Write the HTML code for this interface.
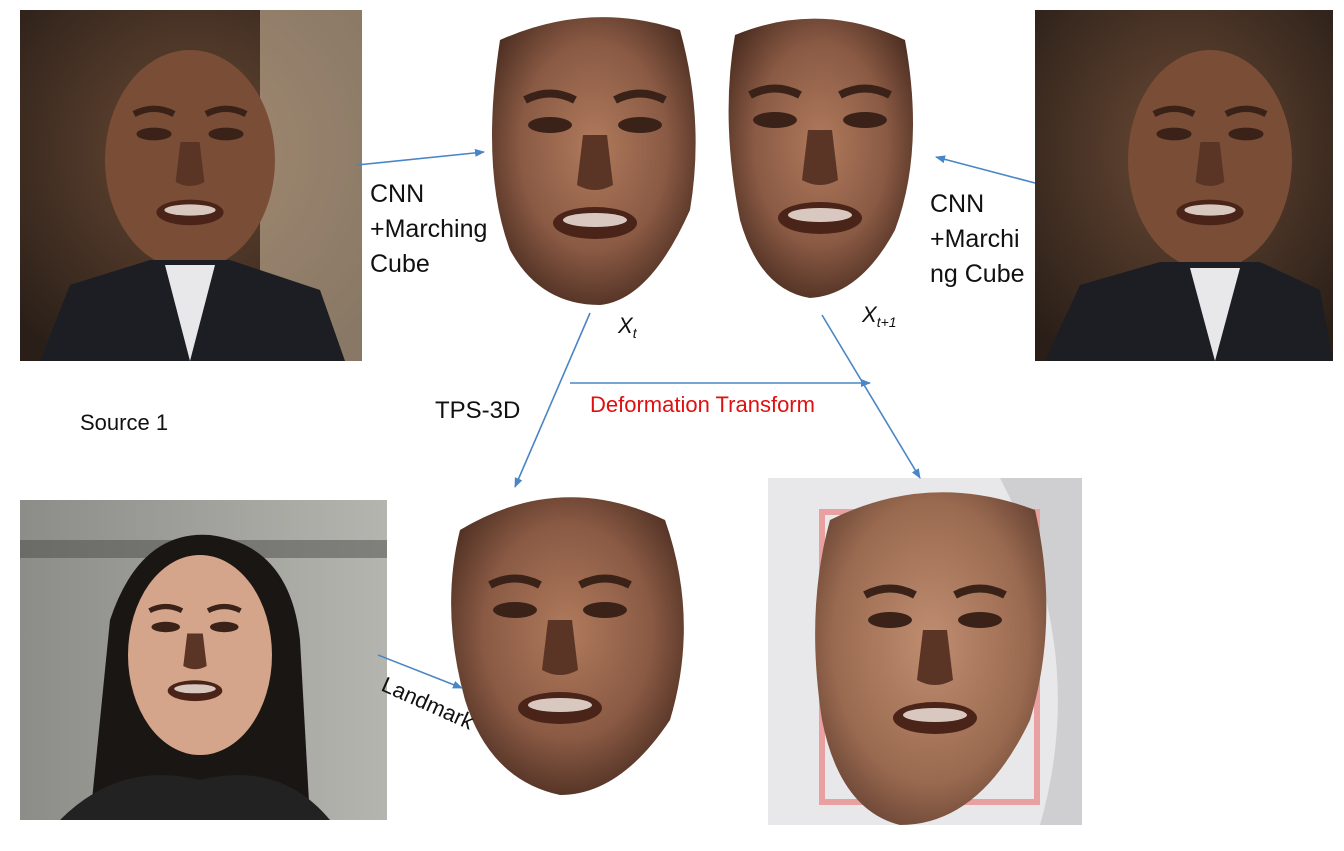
<!DOCTYPE html>
<html><head><meta charset="utf-8"><style>
html,body{margin:0;padding:0;background:#fff;}
svg{display:block;}
text{font-family:"Liberation Sans",sans-serif;}
</style></head><body>
<svg width="1344" height="851" viewBox="0 0 1344 851" xmlns="http://www.w3.org/2000/svg">
<defs>
<radialGradient id="skin" cx="50%" cy="45%" r="60%">
<stop offset="0" stop-color="#b07a5c"/><stop offset="0.6" stop-color="#8a5a44"/><stop offset="1" stop-color="#4a2c20"/></radialGradient>
<radialGradient id="skin2" cx="50%" cy="45%" r="60%">
<stop offset="0" stop-color="#c08d70"/><stop offset="0.7" stop-color="#9a6a50"/><stop offset="1" stop-color="#6a4535"/></radialGradient>
<radialGradient id="bgTop" cx="50%" cy="40%" r="70%">
<stop offset="0" stop-color="#6b4a35"/><stop offset="1" stop-color="#2a1f18"/></radialGradient>
<linearGradient id="bldg" x1="0" y1="0" x2="1" y2="0">
<stop offset="0" stop-color="#8c8c88"/><stop offset="1" stop-color="#b5b5b0"/></linearGradient>
<marker id="ar" markerWidth="10" markerHeight="10" refX="9" refY="5" orient="auto" markerUnits="userSpaceOnUse">
<path d="M0,1 L10,5 L0,9 z" fill="#4a86c5"/></marker>
<g id="feat">
<ellipse cx="-45" cy="-20" rx="22" ry="8" fill="#3a2218"/>
<ellipse cx="45" cy="-20" rx="22" ry="8" fill="#3a2218"/>
<path d="M-70,-45 Q-45,-58 -20,-45" stroke="#3a2218" stroke-width="8" fill="none"/>
<path d="M20,-45 Q45,-58 70,-45" stroke="#3a2218" stroke-width="8" fill="none"/>
<path d="M-12,-10 L-18,40 Q0,50 18,40 L12,-10" fill="#5a3526"/>
<ellipse cx="0" cy="78" rx="42" ry="16" fill="#4a2418"/>
<ellipse cx="0" cy="75" rx="32" ry="7" fill="#d8c8c0"/>
</g>
</defs>

<!-- top-left photo -->
<rect x="20" y="10" width="342" height="351" fill="url(#bgTop)"/>
<rect x="260" y="10" width="102" height="351" fill="#c8b49a" opacity="0.6"/>
<ellipse cx="190" cy="160" rx="85" ry="110" fill="#7a4e36"/>
<g transform="translate(190,150) scale(0.8)"><use href="#feat"/></g>
<path d="M40,361 L70,285 L150,260 L230,260 L320,290 L345,361 Z" fill="#1c1e24"/>
<path d="M165,265 L190,361 L215,265 Z" fill="#e8e8ea"/>

<!-- top-right photo -->
<rect x="1035" y="10" width="298" height="351" fill="url(#bgTop)"/>
<ellipse cx="1210" cy="160" rx="82" ry="110" fill="#7a4e36"/>
<g transform="translate(1210,150) scale(0.8)"><use href="#feat"/></g>
<path d="M1045,361 L1080,285 L1160,262 L1260,262 L1320,290 L1333,361 Z" fill="#1c1e24"/>
<path d="M1190,268 L1215,361 L1240,268 Z" fill="#e8e8ea"/>

<!-- mesh faces top -->
<path d="M500,40 Q590,0 680,30 Q705,120 690,210 Q650,300 600,305 Q540,305 510,250 Q480,170 500,40 Z" fill="url(#skin)"/>
<g transform="translate(595,145)"><use href="#feat"/></g>
<path d="M735,35 Q820,0 905,40 Q925,150 895,230 Q860,295 810,298 Q760,290 740,220 Q720,120 735,35 Z" fill="url(#skin)"/>
<g transform="translate(820,140)"><use href="#feat"/></g>

<!-- bottom-left photo -->
<rect x="20" y="500" width="367" height="320" fill="url(#bldg)"/>
<rect x="20" y="540" width="367" height="18" fill="#4a4a48" opacity="0.5"/>
<path d="M90,820 L110,620 Q140,530 210,535 Q290,545 300,640 L310,820 Z" fill="#1a1614"/>
<ellipse cx="200" cy="655" rx="72" ry="100" fill="#d4a58a"/>
<g transform="translate(195,640) scale(0.65)"><use href="#feat"/></g>
<path d="M60,820 Q120,760 200,780 Q280,760 330,820 Z" fill="#222"/>

<!-- bottom-mid face -->
<path d="M460,530 Q560,470 665,520 Q700,620 670,720 Q620,795 560,795 Q490,780 465,700 Q440,610 460,530 Z" fill="url(#skin)"/>
<g transform="translate(560,630)"><use href="#feat"/></g>

<!-- bottom-right -->
<rect x="768" y="478" width="314" height="347" fill="#e8e8ea"/>
<path d="M1000,478 L1082,478 L1082,825 L1040,825 Q1090,650 1000,478 Z" fill="#cfcfd2"/>
<rect x="822" y="512" width="215" height="290" fill="none" stroke="#e8a0a0" stroke-width="6"/>
<path d="M830,520 Q930,470 1035,510 Q1060,620 1030,720 Q980,825 900,825 Q840,810 822,720 Q805,610 830,520 Z" fill="url(#skin2)"/>
<g transform="translate(935,640)"><use href="#feat"/></g>

<!-- arrows -->
<g stroke="#4a86c5" stroke-width="1.6" fill="none" marker-end="url(#ar)">
<line x1="357" y1="165" x2="484" y2="152"/>
<line x1="1035" y1="183" x2="936" y2="157"/>
<line x1="590" y1="313" x2="515" y2="487"/>
<line x1="822" y1="315" x2="920" y2="478"/>
<line x1="570" y1="383" x2="870" y2="383"/>
<line x1="378" y1="655" x2="462" y2="688"/>
</g>

<!-- labels -->
<g font-size="25" fill="#111">
<text x="370" y="202">CNN</text>
<text x="370" y="237">+Marching</text>
<text x="370" y="272">Cube</text>
<text x="930" y="212">CNN</text>
<text x="930" y="247">+Marchi</text>
<text x="930" y="282">ng Cube</text>
</g>
<text x="80" y="430" font-size="22" fill="#111">Source 1</text>
<text x="435" y="418" font-size="24" fill="#111">TPS-3D</text>
<text x="590" y="412" font-size="22" fill="#e01010">Deformation Transform</text>
<text x="618" y="333" font-size="22" font-style="italic" font-family="Liberation Serif,serif" fill="#111">X<tspan font-size="14" dy="5">t</tspan></text>
<text x="862" y="322" font-size="22" font-style="italic" font-family="Liberation Serif,serif" fill="#111">X<tspan font-size="14" dy="5">t+1</tspan></text>
<text x="380" y="690" font-size="22" fill="#111" transform="rotate(24 380 690)">Landmark</text>
</svg>
</body></html>
